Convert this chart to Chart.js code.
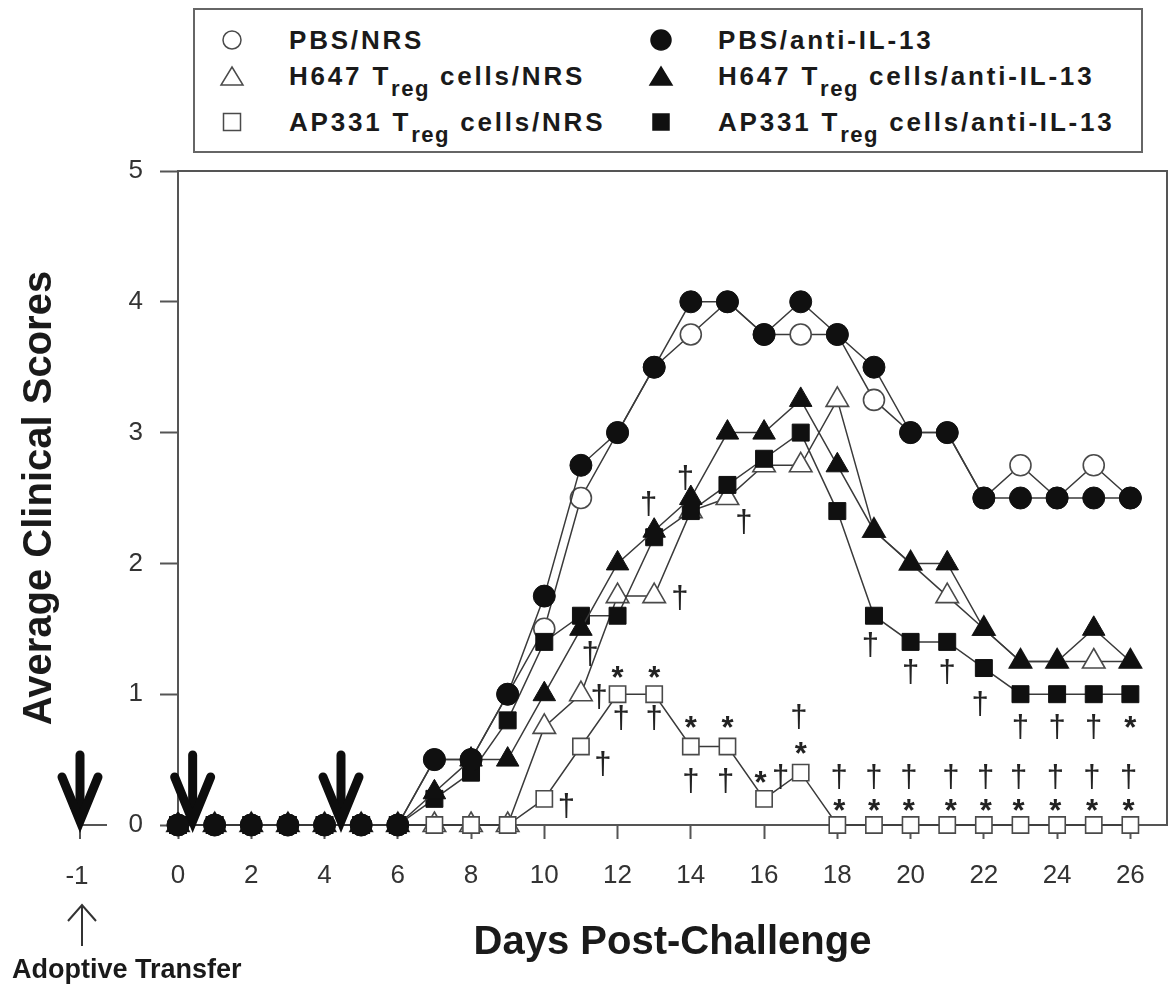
<!DOCTYPE html>
<html>
<head>
<meta charset="utf-8">
<title>Average Clinical Scores</title>
<script src="https://cdn.jsdelivr.net/npm/chart.js@4.4.1/dist/chart.umd.min.js"></script>
<style>
  html, body { margin: 0; overflow: hidden; background: #fff; font-family: "Liberation Sans", Arial, sans-serif; }
  #wrap { position: relative; width: 1168px; height: 986px; overflow: hidden; }
  #wrap canvas { display: block; }
  #legend { position: absolute; left: 193px; top: 8px; width: 950px; height: 145px;
            border: 2px solid #666; box-sizing: border-box; background: #fff; }
  .item { position: absolute; font-weight: bold; font-size: 26px; line-height: 30px; letter-spacing: 2.8px;
          color: #1a1a1a; white-space: nowrap; }
  .item sub { font-size: 0.85em; line-height: 0; vertical-align: -0.5em; letter-spacing: 1.5px; }
  .mk { position: absolute; width: 28px; height: 28px; }
</style>
</head>
<body>
<div id="wrap">
  <canvas id="myChart" width="1168" height="986"></canvas>
  <div id="legend"></div>
</div>
<script>
// days post-challenge
const days = [0, 1, 2, 3, 4, 5, 6, 7, 8, 9, 10, 11, 12, 13, 14, 15, 16, 17, 18, 19, 20, 21, 22, 23, 24, 25, 26];
const xTicks = [0, 2, 4, 6, 8, 10, 12, 14, 16, 18, 20, 22, 24, 26];

// average clinical scores, one value per day
const pbsNrs    = [0, 0, 0, 0, 0, 0, 0, 0.5, 0.5, 1.0, 1.5, 2.5, 3.0, 3.5, 3.75, 4.0, 3.75, 3.75, 3.75, 3.25, 3.0, 3.0, 2.5, 2.75, 2.5, 2.75, 2.5];
const pbsAnti   = [0, 0, 0, 0, 0, 0, 0, 0.5, 0.5, 1.0, 1.75, 2.75, 3.0, 3.5, 4.0, 4.0, 3.75, 4.0, 3.75, 3.5, 3.0, 3.0, 2.5, 2.5, 2.5, 2.5, 2.5];
const h647Nrs   = [0, 0, 0, 0, 0, 0, 0, 0, 0, 0, 0.75, 1.0, 1.75, 1.75, 2.4, 2.5, 2.75, 2.75, 3.25, 2.25, 2.0, 1.75, 1.5, 1.25, 1.25, 1.25, 1.25];
const h647Anti  = [0, 0, 0, 0, 0, 0, 0, 0.25, 0.5, 0.5, 1.0, 1.5, 2.0, 2.25, 2.5, 3.0, 3.0, 3.25, 2.75, 2.25, 2.0, 2.0, 1.5, 1.25, 1.25, 1.5, 1.25];
const ap331Nrs  = [0, 0, 0, 0, 0, 0, 0, 0, 0, 0, 0.2, 0.6, 1.0, 1.0, 0.6, 0.6, 0.2, 0.4, 0, 0, 0, 0, 0, 0, 0, 0, 0];
const ap331Anti = [0, 0, 0, 0, 0, 0, 0, 0.2, 0.4, 0.8, 1.4, 1.6, 1.6, 2.2, 2.4, 2.6, 2.8, 3.0, 2.4, 1.6, 1.4, 1.4, 1.2, 1.0, 1.0, 1.0, 1.0];

const seriesNames = [
  'PBS/NRS', 'PBS/anti-IL-13',
  'H647 T<sub>reg</sub> cells/NRS', 'H647 T<sub>reg</sub> cells/anti-IL-13',
  'AP331 T<sub>reg</sub> cells/NRS', 'AP331 T<sub>reg</sub> cells/anti-IL-13'
];

// significance marks [day, score]
const daggerMarks = [
  [13.85, 2.66], [12.85, 2.46], [15.45, 2.32], [13.7, 1.74], [11.25, 1.31], [11.5, 0.98],
  [12.1, 0.82], [13.0, 0.82], [11.6, 0.47], [14.0, 0.34], [14.95, 0.34], [10.6, 0.15],
  [16.45, 0.37], [16.95, 0.83], [18.9, 1.38], [20.0, 1.17], [21.0, 1.17], [21.9, 0.93],
  [23.0, 0.75], [24.0, 0.75], [25.0, 0.75],
  [18.05, 0.37], [19.0, 0.37], [19.95, 0.37], [21.1, 0.37], [22.05, 0.37], [22.95, 0.37],
  [23.95, 0.37], [24.95, 0.37], [25.95, 0.37]
];
const starMarks = [
  [12.0, 1.17], [13.0, 1.17], [14.0, 0.79], [15.0, 0.79], [15.9, 0.37], [17.0, 0.59], [26.0, 0.79],
  [18.05, 0.15], [19.0, 0.15], [19.95, 0.15], [21.1, 0.15], [22.05, 0.15], [22.95, 0.15],
  [23.95, 0.15], [24.95, 0.15], [25.95, 0.15]
];

// challenge days (thick arrows) and the adoptive transfer day
const challengeDays = [0.4, 4.45];
const transferDay = -1;

const FONT = '"Liberation Sans", Arial, sans-serif';

const series = [
  { name: seriesNames[0], values: pbsNrs,    shape: 'circle',   filled: false, r: 10.5, order: 5 },
  { name: seriesNames[1], values: pbsAnti,   shape: 'circle',   filled: true,  r: 11,   order: 0 },
  { name: seriesNames[2], values: h647Nrs,   shape: 'triangle', filled: false, r: 13,   order: 4 },
  { name: seriesNames[3], values: h647Anti,  shape: 'triangle', filled: true,  r: 13,   order: 1 },
  { name: seriesNames[4], values: ap331Nrs,  shape: 'rect',     filled: false, r: 11.5, order: 3 },
  { name: seriesNames[5], values: ap331Anti, shape: 'rect',     filled: true,  r: 12,   order: 2 }
];

// legend (html so the subscripts stay real text)
const legendLeft = 193, legendTop = 8;
const legendCols = [[230, 287], [659, 716]];
const legendRows = [38, 74, 120];
function markerSvg(shape, filled) {
  const fill = filled ? '#101010' : '#fff';
  const st = filled ? '#101010' : '#4a4a4a';
  let body;
  if (shape === 'circle') body = '<circle cx="14" cy="14" r="' + (filled ? 10 : 9) + '" fill="' + fill + '" stroke="' + st + '" stroke-width="1.5"/>';
  else if (shape === 'triangle') body = '<polygon points="14,5 25,23 3,23" fill="' + fill + '" stroke="' + st + '" stroke-width="1.5"/>';
  else body = '<rect x="' + (filled ? 6 : 5.5) + '" y="' + (filled ? 6 : 5.5) + '" width="' + (filled ? 16 : 17) + '" height="' + (filled ? 16 : 17) + '" fill="' + fill + '" stroke="' + st + '" stroke-width="1.5"/>';
  return '<svg width="28" height="28" xmlns="http://www.w3.org/2000/svg">' + body + '</svg>';
}
let html = '';
series.forEach(function (s, i) {
  const col = legendCols[i % 2];
  const rowY = legendRows[Math.floor(i / 2)];
  html += '<div class="mk" style="left:' + (col[0] - 14 - legendLeft) + 'px;top:' + (rowY - 14 - legendTop) + 'px">' + markerSvg(s.shape, s.filled) + '</div>';
  html += '<div class="item" style="left:' + (col[1] - legendLeft) + 'px;top:' + (rowY - 15 - legendTop) + 'px">' + s.name + '</div>';
});
document.getElementById('legend').innerHTML = html;

const datasets = series.map(function (s) {
  return {
    label: s.name.replace(/<\/?sub>/g, ''),
    data: days.map(function (d, k) { return { x: d, y: s.values[k] }; }),
    borderColor: '#3a3a3a',
    borderWidth: 1.5,
    pointStyle: s.shape,
    pointRadius: s.r,
    pointHoverRadius: s.r,
    pointBackgroundColor: s.filled ? '#101010' : '#ffffff',
    pointBorderColor: s.filled ? '#101010' : '#4a4a4a',
    pointBorderWidth: s.filled ? 1 : 1.6,
    order: s.order,
    clip: false,
    tension: 0,
    fill: false
  };
});

function downArrow(ctx, x, tipY) {
  ctx.save();
  ctx.strokeStyle = '#0d0d0d';
  ctx.lineWidth = 9;
  ctx.lineCap = 'round';
  ctx.beginPath();
  ctx.moveTo(x, tipY - 66);
  ctx.lineTo(x, tipY - 6);
  ctx.stroke();
  ctx.lineJoin = 'miter';
  ctx.beginPath();
  ctx.moveTo(x - 18, tipY - 44);
  ctx.lineTo(x, tipY);
  ctx.lineTo(x + 18, tipY - 44);
  ctx.stroke();
  ctx.restore();
}

function drawMark(ctx, text, x, y) {
  const m = ctx.measureText(text);
  ctx.fillText(text, x, y + (m.actualBoundingBoxAscent - m.actualBoundingBoxDescent) / 2);
}

const extras = {
  id: 'extras',
  beforeDatasetsDraw(chart) {
    const { ctx, chartArea } = chart;
    ctx.save();
    ctx.strokeStyle = '#555';
    ctx.lineWidth = 2;
    ctx.beginPath();
    ctx.moveTo(chartArea.left, chartArea.top);
    ctx.lineTo(chartArea.right, chartArea.top);
    ctx.lineTo(chartArea.right, chartArea.bottom);
    ctx.stroke();
    ctx.restore();
  },
  afterDatasetsDraw(chart) {
    const { ctx, chartArea, scales } = chart;
    const x = scales.x, y = scales.y;
    const y0 = y.getPixelForValue(0);
    // broken axis piece for the transfer day
    const bx = chartArea.left - 98;
    ctx.save();
    ctx.strokeStyle = '#555';
    ctx.lineWidth = 2;
    ctx.beginPath();
    ctx.moveTo(bx, y0 + 14);
    ctx.lineTo(bx, y0);
    ctx.lineTo(bx + 27, y0);
    ctx.stroke();
    ctx.fillStyle = '#333';
    ctx.font = '26px ' + FONT;
    ctx.textAlign = 'center';
    ctx.textBaseline = 'middle';
    ctx.fillText(String(transferDay), bx - 3, 877);

    // thick arrows
    downArrow(ctx, bx, y0 - 4);
    challengeDays.forEach(function (d) { downArrow(ctx, x.getPixelForValue(d), y0 - 4); });

    // thin arrow + label
    ctx.strokeStyle = '#333';
    ctx.lineWidth = 2;
    ctx.beginPath();
    ctx.moveTo(bx + 2, 946);
    ctx.lineTo(bx + 2, 905);
    ctx.moveTo(bx - 12, 921);
    ctx.lineTo(bx + 2, 905);
    ctx.lineTo(bx + 16, 921);
    ctx.stroke();
    ctx.fillStyle = '#1a1a1a';
    ctx.font = 'bold 27px ' + FONT;
    ctx.textAlign = 'left';
    ctx.textBaseline = 'alphabetic';
    ctx.fillText('Adoptive Transfer', 12, 978);

    // significance marks
    ctx.textAlign = 'center';
    ctx.fillStyle = '#222';
    ctx.font = '31px ' + FONT;
    daggerMarks.forEach(function (p) { drawMark(ctx, '\u2020', x.getPixelForValue(p[0]), y.getPixelForValue(p[1])); });
    ctx.font = 'bold 31px ' + FONT;
    starMarks.forEach(function (p) { drawMark(ctx, '*', x.getPixelForValue(p[0]), y.getPixelForValue(p[1])); });
    ctx.restore();
  }
};

new Chart(document.getElementById('myChart'), {
  type: 'line',
  data: { datasets: datasets },
  plugins: [extras],
  options: {
    responsive: false,
    animation: false,
    devicePixelRatio: 1,
    layout: { autoPadding: false, padding: { top: 171, right: 1, left: 0, bottom: 0 } },
    plugins: { legend: { display: false }, tooltip: { enabled: false } },
    scales: {
      x: {
        type: 'linear',
        min: 0,
        max: 27,
        afterBuildTicks: function (s) { s.ticks = xTicks.map(function (v) { return { value: v }; }); },
        afterFit: function (s) { s.height = 161; s.paddingLeft = 0; s.paddingRight = 0; },
        ticks: { autoSkip: false, maxRotation: 0, color: '#333', padding: 21,
                 font: { family: FONT, size: 26 } },
        grid: { drawOnChartArea: false, drawTicks: true, tickLength: 14, tickColor: '#555', tickWidth: 2 },
        border: { display: true, color: '#555', width: 2 },
        title: { display: true, text: 'Days Post-Challenge', color: '#1a1a1a',
                 font: { family: FONT, size: 40, weight: 'bold' }, padding: { top: 0, bottom: 19 } }
      },
      y: {
        min: 0,
        max: 5,
        afterFit: function (s) { s.width = 178; s.paddingTop = 0; s.paddingBottom = 0; },
        ticks: { stepSize: 1, color: '#333', padding: 17, font: { family: FONT, size: 26 } },
        grid: { drawOnChartArea: false, drawTicks: true, tickLength: 18, tickColor: '#555', tickWidth: 2 },
        border: { display: true, color: '#555', width: 2 },
        title: { display: true, text: 'Average Clinical Scores', color: '#1a1a1a',
                 font: { family: FONT, size: 40, weight: 'bold' }, padding: { top: 16, bottom: 0 } }
      }
    }
  }
});
</script>
</body>
</html>
